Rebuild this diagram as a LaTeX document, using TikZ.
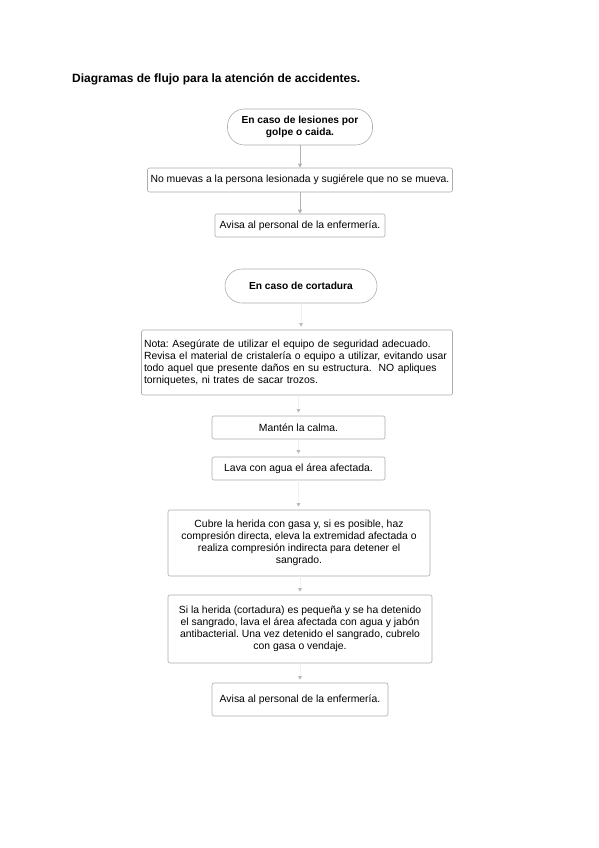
\documentclass[tikz,border=0pt]{standalone}
\usepackage{fontspec}
\setmainfont{Liberation Sans}
\usetikzlibrary{arrows.meta}
\begin{document}
\frenchspacing
\begin{tikzpicture}[x=1pt,y=-1pt,
  box/.style={draw=gray!65, line width=0.6pt, rounded corners=2pt, fill=white,
    inner sep=0pt, font=\fontsize{10.4}{11.9}\selectfont, align=center},
  term/.style={box, rounded corners=17pt, font=\fontsize{10.2}{11.5}\selectfont\bfseries},
  conn/.style={draw=gray!60, line width=0.6pt, -{Triangle[length=4pt,width=4pt]}},
  faint/.style={draw=gray!12, line width=0.6pt, shorten >=3pt,
    -{Triangle[length=3.5pt,width=3.5pt,color=gray!55]}}]
\useasboundingbox (0,0) rectangle (599,848);

\node[anchor=west, inner sep=0pt, font=\fontsize{12}{14}\selectfont\bfseries] (title) at (72,79)
  {Diagramas de flujo para la atención de accidentes.};

% first flow
\node[term, minimum width=145pt, minimum height=36pt] (t1) at (300,127)
  {En caso de lesiones por\\golpe o caida.};
\node[box, minimum width=305pt, minimum height=24pt] (b1) at (300,180)
  {No muevas a la persona lesionada y sugiérele que no se mueva.};
\node[box, minimum width=170pt, minimum height=23pt] (b2) at (300,225.5)
  {Avisa al personal de la enfermería.};
\draw[conn] (t1) -- (b1);
\draw[conn] (b1) -- (b2);

% second flow
\node[term, minimum width=152pt, minimum height=34pt] (t2) at (301,286)
  {En caso de cortadura};
\node[box, align=left, text width=306pt, inner xsep=2.5pt, minimum height=65pt] (n1) at (297,362.5)
  {Nota: Asegúrate de utilizar el equipo de seguridad adecuado.\\
   Revisa el material de cristalería o equipo a utilizar, evitando usar\\
   todo aquel que presente daños en su estructura.\ \ NO apliques\\
   torniquetes, ni trates de sacar trozos.};
\node[box, minimum width=173pt, minimum height=23pt] (m1) at (298.5,427.5)
  {Mantén la calma.};
\node[box, minimum width=173pt, minimum height=23pt] (m2) at (298.5,468.5)
  {Lava con agua el área afectada.};
\node[box, minimum width=262pt, minimum height=66pt] (m3) at (299,543)
  {Cubre la herida con gasa y, si es posible, haz\\
   compresión directa, eleva la extremidad afectada o\\
   realiza compresión indirecta para detener el\\
   sangrado.};
\node[box, minimum width=264pt, minimum height=68pt] (m4) at (300,629)
  {Si la herida (cortadura) es pequeña y se ha detenido\\
   el sangrado, lava el área afectada con agua y jabón\\
   antibacterial. Una vez detenido el sangrado, cubrelo\\
   con gasa o vendaje.};
\node[box, minimum width=176pt, minimum height=33pt] (m5) at (300,699.5)
  {Avisa al personal de la enfermería.};

\draw[faint] (t2.south) -- (t2.south |- n1.north);
\draw[faint] (n1.south -| m1.north) -- (m1.north);
\draw[faint] (m1.south) -- (m2.north);
\draw[faint] (m2.south) -- (m2.south |- m3.north);
\draw[faint] (m3.south -| m4.north) -- (m4.north);
\draw[faint] (m4.south) -- (m5.north);
\end{tikzpicture}
\end{document}
